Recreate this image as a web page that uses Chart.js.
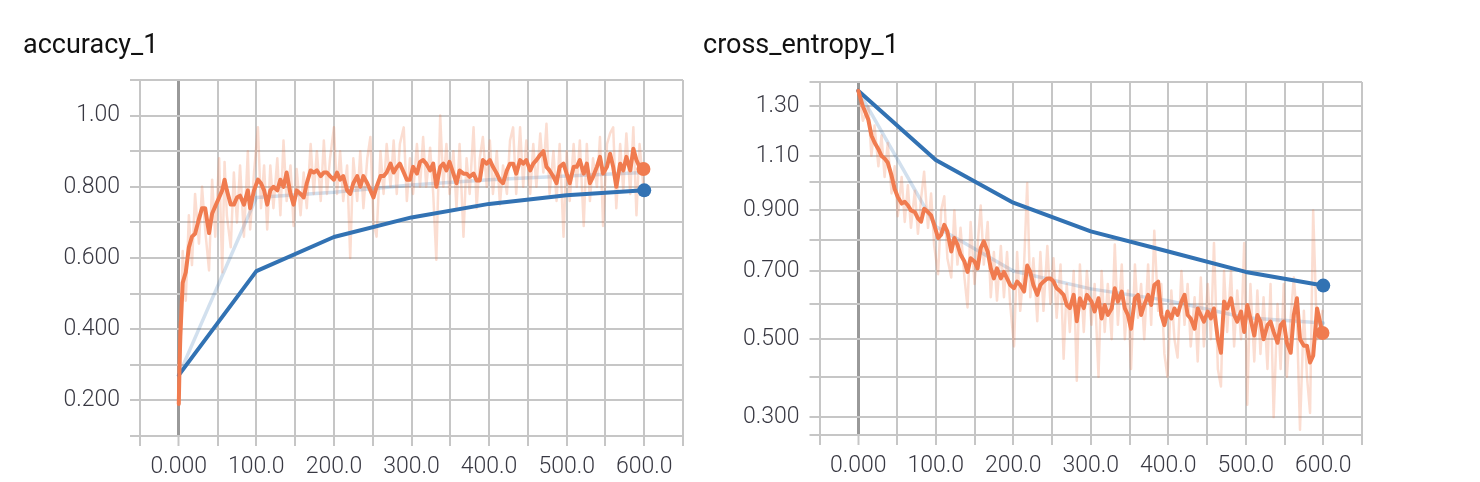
<!DOCTYPE html>
<html>
<head>
<meta charset="utf-8">
<title>accuracy_1 / cross_entropy_1</title>
<script src="https://cdn.jsdelivr.net/npm/chart.js@4.4.1/dist/chart.umd.min.js"></script>
<style>
  html, body { margin: 0; padding: 0; background: #fff; overflow: hidden; }
  canvas { position: absolute; top: 0; }
  .title {
    position: absolute; top: 31px; white-space: nowrap;
    font-family: Roboto, "Liberation Sans", sans-serif;
    font-size: 27px; line-height: 27px; color: #111;
  }
</style>
</head>
<body>
<canvas id="acc" width="700" height="482" style="left:0"></canvas>
<canvas id="ce" width="780" height="482" style="left:700px"></canvas>
<div class="title" style="left:23px">accuracy_1</div>
<div class="title" style="left:703px">cross_entropy_1</div>
<script>
// ---- accuracy_1 : training run (orange) ----
const accSteps = [
  0, 1, 2, 5, 9, 13, 17, 21, 26, 30,
  34, 39, 43, 47, 52, 56, 59, 62, 67, 71,
  75, 79, 84, 89, 92, 97, 102, 106, 110, 114,
  118, 122, 127, 131, 135, 139, 144, 148, 152, 157,
  161, 165, 170, 174, 178, 183, 187, 191, 195, 200,
  204, 208, 212, 217, 221, 225, 230, 234, 238, 243,
  247, 251, 255, 260, 264, 268, 273, 277, 281, 285,
  290, 294, 298, 302, 307, 311, 315, 319, 324, 328,
  332, 337, 341, 345, 349, 354, 358, 362, 367, 371,
  375, 380, 384, 388, 392, 397, 401, 405, 410, 414,
  418, 423, 427, 431, 435, 440, 444, 448, 453, 457,
  461, 466, 470, 474, 478, 483, 487, 491, 496, 500,
  504, 509, 513, 517, 522, 526, 530, 534, 539, 543,
  547, 552, 556, 560, 564, 569, 573, 577, 582, 586,
  590, 594, 599
];
const accTrainSmooth = [
  0.19, 0.30, 0.38, 0.53, 0.56, 0.63, 0.66, 0.668, 0.71, 0.74,
  0.74, 0.67, 0.725, 0.745, 0.77, 0.79, 0.82, 0.79, 0.75, 0.75,
  0.77, 0.775, 0.75, 0.79, 0.74, 0.79, 0.82, 0.81, 0.79, 0.75,
  0.79, 0.80, 0.79, 0.82, 0.80, 0.84, 0.78, 0.75, 0.79, 0.78,
  0.77, 0.81, 0.846, 0.84, 0.846, 0.83, 0.84, 0.84, 0.83, 0.82,
  0.84, 0.82, 0.83, 0.79, 0.78, 0.81, 0.83, 0.80, 0.83, 0.81,
  0.79, 0.77, 0.80, 0.83, 0.83, 0.84, 0.865, 0.84, 0.855, 0.865,
  0.84, 0.82, 0.82, 0.856, 0.837, 0.87, 0.875, 0.865, 0.846, 0.865,
  0.80, 0.856, 0.865, 0.846, 0.87, 0.837, 0.81, 0.846, 0.837, 0.837,
  0.828, 0.837, 0.818, 0.818, 0.875, 0.865, 0.875, 0.856, 0.837, 0.818,
  0.81, 0.846, 0.865, 0.865, 0.837, 0.875, 0.865, 0.875, 0.846, 0.865,
  0.875, 0.89, 0.90, 0.856, 0.846, 0.828, 0.81, 0.856, 0.865, 0.837,
  0.81, 0.856, 0.856, 0.875, 0.837, 0.865, 0.81, 0.828, 0.856, 0.884,
  0.837, 0.856, 0.893, 0.856, 0.80, 0.865, 0.846, 0.884, 0.846, 0.907,
  0.875, 0.856, 0.85
];
const accTrainRaw = [
  0.19, 0.42, 0.30, 0.62, 0.48, 0.72, 0.58, 0.78, 0.64, 0.80,
  0.68, 0.565, 0.82, 0.66, 0.88, 0.56, 0.87, 0.72, 0.63, 0.84,
  0.70, 0.86, 0.66, 0.90, 0.68, 0.84, 0.967, 0.74, 0.86, 0.68,
  0.86, 0.74, 0.88, 0.72, 0.93, 0.76, 0.86, 0.69, 0.85, 0.72,
  0.84, 0.74, 0.92, 0.78, 0.90, 0.76, 0.93, 0.78, 0.88, 0.967,
  0.78, 0.90, 0.76, 0.86, 0.60, 0.88, 0.76, 0.90, 0.74, 0.88,
  0.94, 0.70, 0.66, 0.90, 0.78, 0.92, 0.80, 0.93, 0.78, 0.92,
  0.967, 0.76, 0.88, 0.78, 0.92, 0.80, 0.94, 0.80, 0.91, 0.78,
  0.595, 1.0, 0.80, 0.92, 0.78, 0.90, 0.74, 0.92, 0.66, 0.88,
  0.78, 0.967, 0.74, 0.88, 0.94, 0.80, 0.93, 0.78, 0.90, 0.75,
  0.86, 0.78, 0.93, 0.967, 0.78, 0.967, 0.80, 0.93, 0.78, 0.92,
  0.80, 0.95, 0.84, 0.977, 0.78, 0.90, 0.76, 0.92, 0.66, 0.90,
  0.76, 0.92, 0.80, 0.93, 0.69, 0.92, 0.76, 0.88, 0.80, 0.94,
  0.69, 0.92, 0.95, 0.967, 0.74, 0.92, 0.79, 0.95, 0.78, 0.967,
  0.72, 0.92, 0.80
];

// ---- evaluation run (blue), one point per 100 steps ----
const valSteps = [0, 100, 200, 300, 400, 500, 600];
const accValSmooth = [0.271, 0.563, 0.659, 0.714, 0.752, 0.776, 0.79];
const accValRaw = [0.271, 0.77, 0.785, 0.805, 0.82, 0.83, 0.84];

// ---- cross_entropy_1 ----
const ceSteps = [
  0, 6, 13, 17, 21, 26, 30, 34, 38, 43,
  47, 51, 56, 60, 64, 68, 73, 77, 81, 85,
  90, 94, 98, 103, 107, 111, 115, 120, 124, 128,
  132, 137, 141, 145, 150, 154, 158, 162, 167, 171,
  175, 179, 184, 188, 192, 196, 201, 205, 209, 214,
  218, 222, 226, 231, 235, 239, 244, 248, 252, 256,
  261, 265, 269, 273, 278, 282, 286, 291, 295, 301,
  305, 310, 314, 318, 322, 327, 331, 335, 340, 344,
  348, 352, 357, 361, 365, 369, 374, 378, 382, 387,
  391, 395, 399, 404, 408, 412, 417, 421, 425, 429,
  434, 438, 442, 446, 451, 455, 459, 464, 468, 472,
  476, 481, 485, 489, 494, 498, 502, 506, 511, 515,
  519, 523, 528, 532, 536, 541, 545, 549, 553, 558,
  562, 566, 570, 575, 579, 583, 587, 592, 599
];
const ceTrainSmooth = [
  1.367, 1.30, 1.244, 1.18, 1.152, 1.126, 1.10, 1.09, 1.075, 1.025,
  0.976, 0.947, 0.924, 0.93, 0.918, 0.90, 0.894, 0.872, 0.861, 0.906,
  0.894, 0.883, 0.85, 0.806, 0.817, 0.85, 0.828, 0.762, 0.806, 0.784,
  0.752, 0.73, 0.697, 0.74, 0.73, 0.708, 0.773, 0.795, 0.762, 0.708,
  0.677, 0.708, 0.677, 0.697, 0.677, 0.657, 0.647, 0.667, 0.657, 0.637,
  0.717, 0.697, 0.657, 0.627, 0.657, 0.667, 0.677, 0.677, 0.667, 0.647,
  0.637, 0.627, 0.597, 0.588, 0.627, 0.55, 0.617, 0.588, 0.627, 0.607,
  0.578, 0.617, 0.558, 0.597, 0.568, 0.587, 0.647, 0.607, 0.637, 0.587,
  0.568, 0.529, 0.617, 0.627, 0.568, 0.597, 0.627, 0.597, 0.657, 0.667,
  0.568, 0.539, 0.578, 0.558, 0.587, 0.568, 0.607, 0.627, 0.568, 0.558,
  0.529, 0.587, 0.568, 0.549, 0.578, 0.558, 0.587, 0.50, 0.463, 0.607,
  0.587, 0.617, 0.568, 0.549, 0.578, 0.52, 0.597, 0.558, 0.51, 0.568,
  0.549, 0.50, 0.539, 0.549, 0.52, 0.49, 0.539, 0.549, 0.49, 0.463,
  0.568, 0.617, 0.50, 0.482, 0.482, 0.437, 0.455, 0.587, 0.517
];
const ceTrainRaw = [
  1.367, 1.24, 1.30, 1.10, 1.22, 1.06, 1.18, 1.02, 1.15, 0.96,
  1.06, 0.88, 1.02, 0.86, 0.99, 0.84, 0.97, 0.82, 0.94, 1.04,
  0.84, 0.96, 0.78, 0.69, 0.90, 0.95, 0.74, 0.68, 0.90, 0.72,
  0.84, 0.68, 0.59, 0.86, 0.66, 0.78, 0.917, 0.72, 0.86, 0.62,
  0.76, 0.61, 0.78, 0.62, 0.76, 0.60, 0.48, 0.76, 0.58, 0.72,
  0.997, 0.62, 0.74, 0.55, 0.76, 0.58, 0.78, 0.60, 0.74, 0.56,
  0.72, 0.447, 0.66, 0.52, 0.70, 0.39, 0.72, 0.52, 0.70, 0.54,
  0.66, 0.40, 0.70, 0.52, 0.66, 0.50, 0.785, 0.54, 0.72, 0.50,
  0.64, 0.42, 0.72, 0.56, 0.66, 0.50, 0.72, 0.54, 0.83, 0.58,
  0.66, 0.46, 0.40, 0.64, 0.50, 0.45, 0.70, 0.54, 0.66, 0.48,
  0.62, 0.44, 0.68, 0.48, 0.66, 0.50, 0.79, 0.42, 0.375, 0.70,
  0.52, 0.70, 0.48, 0.64, 0.50, 0.79, 0.33, 0.66, 0.44, 0.64,
  0.46, 0.62, 0.42, 0.66, 0.30, 0.60, 0.42, 0.66, 0.40, 0.56,
  0.68, 0.56, 0.27, 0.58, 0.40, 0.31, 0.90, 0.50, 0.58
];
const ceValSmooth = [1.367, 1.084, 0.927, 0.828, 0.762, 0.697, 0.655];
const ceValRaw = [1.367, 0.845, 0.70, 0.645, 0.61, 0.56, 0.545];

// ---- axes ----
const xRange = [-50, 650];
const xGridTicks = [-50, 0, 50, 100, 150, 200, 250, 300, 350, 400, 450, 500, 550, 600, 650];
const xTickLabels = [0, 100, 200, 300, 400, 500, 600];
const accRange = [0.1, 1.1];
const accGridTicks = [0.1, 0.2, 0.3, 0.4, 0.5, 0.6, 0.7, 0.8, 0.9, 1.0, 1.1];
const accTickLabels = [0.2, 0.4, 0.6, 0.8, 1.0];
const ceRange = [0.258, 1.405];
const ceGridTicks = [0.258, 0.3, 0.4, 0.5, 0.6, 0.7, 0.8, 0.9, 1.0, 1.1, 1.2, 1.3, 1.405];
const ceTickLabels = [0.3, 0.5, 0.7, 0.9, 1.1, 1.3];

const ORANGE = '#f07b4f';
const BLUE = '#3272b3';
const ORANGE_PALE = 'rgba(240, 123, 79, 0.26)';
const BLUE_PALE = 'rgba(50, 114, 179, 0.22)';
const GRID = '#c6c6c6';
const TICK_TEXT = '#383842';

// y position follows log(1 + v), the way the loss panel is spaced
class Log1pScale extends Chart.LinearScale {
    static id = 'log1p';
    static defaults = {};

    getPixelForValue(value) {
        if (value === null || value === undefined) return NaN;
        const a = Math.log1p(this.min), b = Math.log1p(this.max);
        return this.getPixelForDecimal((Math.log1p(value) - a) / (b - a));
    }

    getValueForPixel(pixel) {
        const a = Math.log1p(this.min), b = Math.log1p(this.max);
        return Math.expm1(a + this.getDecimalForPixel(pixel) * (b - a));
    }
}
Chart.register(Log1pScale);

const hasValue = (list, v) => list.some(t => Math.abs(t - v) < 1e-9);
const toPoints = (steps, vals) => steps.map((s, i) => ({ x: s, y: vals[i] }));
const lastDot = ctx => (ctx.dataIndex === ctx.dataset.data.length - 1 ? 7 : 0);
const tickFont = { family: 'Roboto', size: 23, weight: 300 };

function buildChart(id, opts) {
    const datasets = [
        { data: toPoints(opts.steps, opts.trainSmooth), borderColor: ORANGE, borderWidth: 4,
          pointRadius: lastDot, pointBackgroundColor: ORANGE, pointBorderWidth: 0 },
        { data: toPoints(valSteps, opts.valSmooth), borderColor: BLUE, borderWidth: 4,
          pointRadius: lastDot, pointBackgroundColor: BLUE, pointBorderWidth: 0 },
        { data: toPoints(opts.steps, opts.trainRaw), borderColor: ORANGE_PALE, borderWidth: 2.5, pointRadius: 0 },
        { data: toPoints(valSteps, opts.valRaw), borderColor: BLUE_PALE, borderWidth: 3.5, pointRadius: 0 }
    ];
    datasets.forEach(d => { d.borderJoinStyle = 'round'; d.borderCapStyle = 'round'; d.tension = 0; });

    return new Chart(document.getElementById(id), {
        type: 'line',
        data: { datasets },
        options: {
            responsive: false,
            animation: false,
            events: [],
            layout: { padding: opts.padding },
            plugins: { legend: { display: false }, tooltip: { enabled: false } },
            scales: {
                x: {
                    type: 'linear',
                    min: xRange[0],
                    max: xRange[1],
                    afterBuildTicks: scale => { scale.ticks = xGridTicks.map(v => ({ value: v })); },
                    afterFit: scale => { scale.height = opts.xHeight; },
                    border: { display: false },
                    grid: {
                        color: c => (c.tick && c.tick.value === 0 ? '#999999' : GRID),
                        lineWidth: c => (c.tick && c.tick.value === 0 ? 3 : 2),
                        tickColor: GRID,
                        tickWidth: 2,
                        tickLength: 10
                    },
                    ticks: {
                        autoSkip: false,
                        maxRotation: 0,
                        padding: 7,
                        color: TICK_TEXT,
                        font: tickFont,
                        callback: v => (hasValue(xTickLabels, v) ? Number(v).toPrecision(4) : '')
                    }
                },
                y: {
                    type: opts.yType,
                    min: opts.yRange[0],
                    max: opts.yRange[1],
                    afterBuildTicks: scale => { scale.ticks = opts.yGrid.map(v => ({ value: v })); },
                    afterFit: scale => { scale.width = opts.yWidth; },
                    border: { display: false },
                    grid: { color: GRID, lineWidth: 2, tickColor: GRID, tickWidth: 2, tickLength: 10 },
                    ticks: {
                        autoSkip: false,
                        padding: 10,
                        color: TICK_TEXT,
                        font: tickFont,
                        callback: v => (hasValue(opts.yLabels, v) ? Number(v).toPrecision(3) : '')
                    }
                }
            }
        }
    });
}

buildChart('acc', {
    steps: accSteps, trainSmooth: accTrainSmooth, trainRaw: accTrainRaw,
    valSmooth: accValSmooth, valRaw: accValRaw,
    yType: 'linear', yRange: accRange, yGrid: accGridTicks, yLabels: accTickLabels,
    yWidth: 140, xHeight: 46,
    padding: { top: 80, right: 17, left: 0, bottom: 0 }
});

buildChart('ce', {
    steps: ceSteps, trainSmooth: ceTrainSmooth, trainRaw: ceTrainRaw,
    valSmooth: ceValSmooth, valRaw: ceValRaw,
    yType: 'log1p', yRange: ceRange, yGrid: ceGridTicks, yLabels: ceTickLabels,
    yWidth: 119.5, xHeight: 47,
    padding: { top: 82, right: 118, left: 0, bottom: 0 }
});
</script>
</body>
</html>
